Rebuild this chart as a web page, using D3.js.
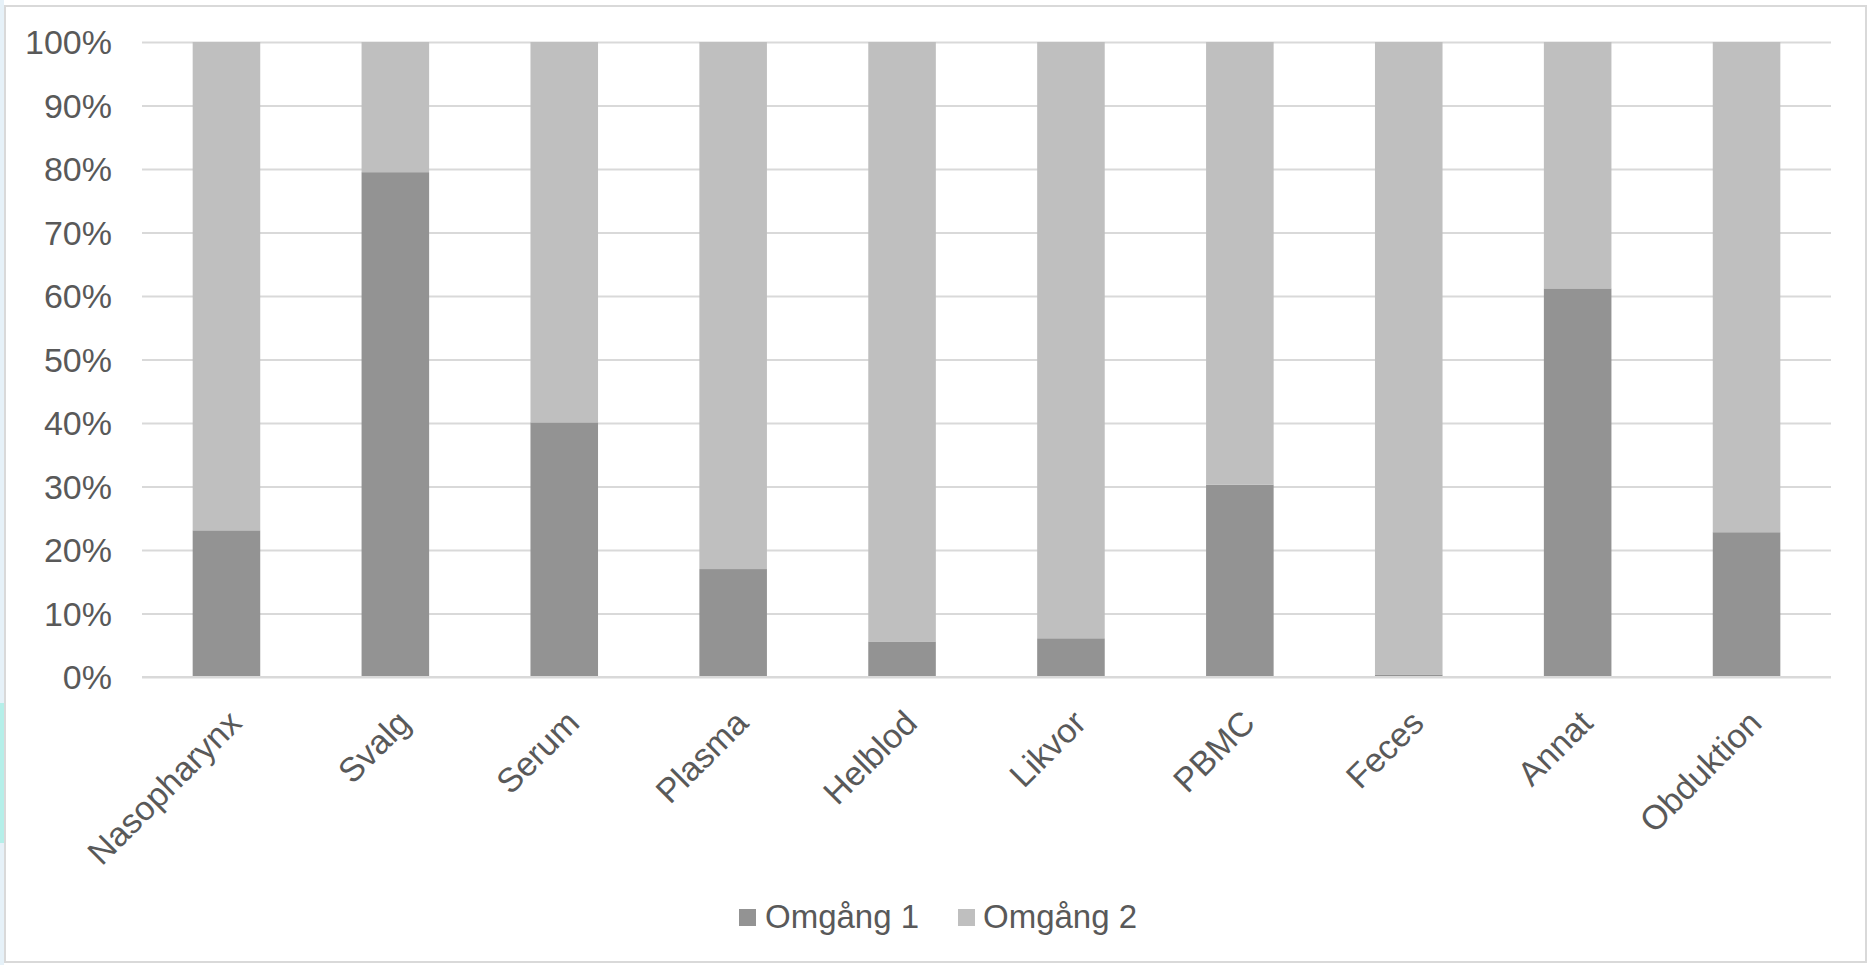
<!DOCTYPE html>
<html>
<head>
<meta charset="utf-8">
<script src="https://cdn.jsdelivr.net/npm/d3@7"></script>
<style>
body { margin: 0; background: #ffffff; }
text { font-family: "Liberation Sans", Arial, sans-serif; fill: #595959; }
</style>
</head>
<body>
<svg></svg>
<script>
// sample types on the x axis
var categories = ["Nasopharynx", "Svalg", "Serum", "Plasma", "Helblod", "Likvor", "PBMC", "Feces", "Annat", "Obduktion"]
// share per round, in percent
var omgang1 = [23.1, 79.5, 40.1, 17.0, 5.6, 6.1, 30.3, 0.4, 61.2, 22.8]
var omgang2 = [76.9, 20.5, 59.9, 83.0, 94.4, 93.9, 69.7, 99.6, 38.8, 77.2]
var seriesNames = ["Omgång 1", "Omgång 2"]
var seriesColors = ["#939393", "#bfbfbf"]
var yTicks = [0, 10, 20, 30, 40, 50, 60, 70, 80, 90, 100]

var screen = {width: 1870, height: 965}
var plot = {left: 142, right: 1831, top: 42, bottom: 677}

var svg = d3.select("svg")
    .attr("width", screen.width)
    .attr("height", screen.height)

// faint window edge on the far left
svg.append("rect")
    .attr("x", 0).attr("y", 0)
    .attr("width", 4).attr("height", screen.height)
    .attr("fill", "#e6f1f8")
svg.append("rect")
    .attr("x", 0).attr("y", 703)
    .attr("width", 4).attr("height", 140)
    .attr("fill", "#b5efe9")

// chart frame
svg.append("rect")
    .attr("x", 5).attr("y", 6)
    .attr("width", 1861).attr("height", 956)
    .attr("fill", "#ffffff")
    .attr("stroke", "#d9d9d9")
    .attr("stroke-width", 2)

var rows = categories.map(function(c, i)
{
    return {cat: c, "Omgång 1": omgang1[i], "Omgång 2": omgang2[i]}
})

var xScale = d3.scaleBand()
    .domain(categories)
    .range([plot.left, plot.right])
    .paddingInner(0.6)
    .paddingOuter(0.3)

var yScale = d3.scaleLinear()
    .domain([0, 100])
    .range([plot.bottom, plot.top])

// gridlines + y labels
var yAxis = d3.axisLeft(yScale)
    .tickValues(yTicks)
    .tickSize(-(plot.right - plot.left))
    .tickPadding(30)
    .tickFormat(function(d) { return d + "%" })

var gy = svg.append("g")
    .attr("transform", "translate(" + plot.left + ",0)")
    .call(yAxis)
gy.select(".domain").remove()
gy.selectAll("line")
    .attr("stroke", "#d9d9d9")
    .attr("stroke-width", 2)
gy.selectAll("text")
    .attr("font-size", 34)
    .attr("dy", "0.35em")

var stacked = d3.stack().keys(seriesNames)(rows)

svg.append("g")
    .selectAll("g")
    .data(stacked)
    .enter()
    .append("g")
    .attr("fill", function(d, i) { return seriesColors[i] })
    .selectAll("rect")
    .data(function(d) { return d })
    .enter()
    .append("rect")
    .attr("x", function(d) { return xScale(d.data.cat) })
    .attr("width", xScale.bandwidth())
    .attr("y", function(d) { return yScale(d[1]) })
    .attr("height", function(d) { return yScale(d[0]) - yScale(d[1]) })

// base line drawn over the bars
svg.append("line")
    .attr("x1", plot.left).attr("x2", plot.right)
    .attr("y1", yScale(0)).attr("y2", yScale(0))
    .attr("stroke", "#d9d9d9")
    .attr("stroke-width", 2)

// rotated category labels
var xAxis = d3.axisBottom(xScale).tickSize(0).tickPadding(0)
var gx = svg.append("g")
    .attr("transform", "translate(0," + plot.bottom + ")")
    .call(xAxis)
gx.select(".domain").remove()
gx.selectAll("text")
    .attr("font-size", 34)
    .attr("text-anchor", "end")
    .attr("dy", null)
    .attr("y", 0)
    .attr("transform", "translate(17,48) rotate(-45)")

// legend
var legendItems = [{x: 739, tx: 765}, {x: 958, tx: 983}]
var legend = svg.append("g")
    .selectAll("g")
    .data(seriesNames)
    .enter()
    .append("g")
legend.append("rect")
    .attr("x", function(d, i) { return legendItems[i].x })
    .attr("y", 909)
    .attr("width", 17)
    .attr("height", 17)
    .attr("fill", function(d, i) { return seriesColors[i] })
legend.append("text")
    .attr("x", function(d, i) { return legendItems[i].tx })
    .attr("y", 928)
    .attr("font-size", 33)
    .text(function(d) { return d })
</script>
</body>
</html>
